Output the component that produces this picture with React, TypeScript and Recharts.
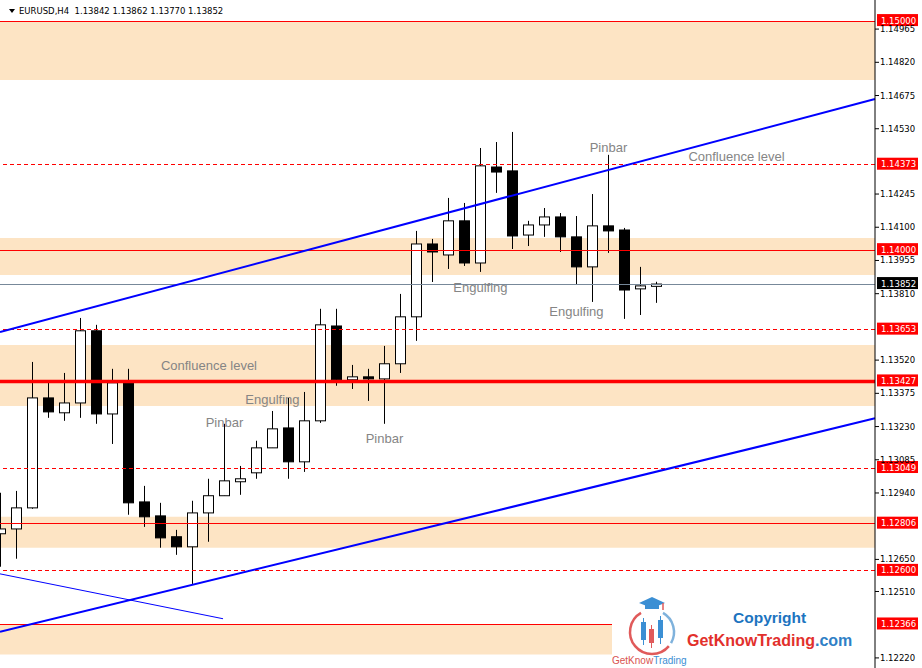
import {
  Bar,
  ComposedChart,
  ReferenceArea,
  ReferenceDot,
  ReferenceLine,
  XAxis,
  YAxis,
} from "recharts";

// EURUSD H4 candles (oldest -> newest)
const OPEN = [
  1.12762, 1.12783, 1.12875, 1.13355, 1.1329, 1.13333, 1.13648, 1.13285, 1.13421, 1.12901,
  1.1284, 1.12749, 1.12705, 1.12853, 1.12928, 1.12989, 1.13028, 1.13137, 1.13224, 1.13076,
  1.13255, 1.13669, 1.13434, 1.13447, 1.13438, 1.13504, 1.13709, 1.14027, 1.13979, 1.14128,
  1.13944, 1.14363, 1.14346, 1.14066, 1.1411, 1.14145, 1.14058, 1.13927, 1.14106, 1.14088,
  1.13831, 1.13842,
];
const HIGH = [
  1.12941, 1.12949, 1.13512, 1.13421, 1.13464, 1.13704, 1.13674, 1.13482, 1.13482, 1.12971,
  1.12897, 1.12779, 1.12906, 1.13002, 1.13242, 1.13058, 1.13168, 1.13298, 1.13355, 1.13381,
  1.13744, 1.13744, 1.13499, 1.13482, 1.13582, 1.13809, 1.14084, 1.14049, 1.14228, 1.14206,
  1.14446, 1.14472, 1.14516, 1.14128, 1.14184, 1.14162, 1.14149, 1.14245, 1.14416, 1.14097,
  1.13927, 1.13862,
];
const LOW = [
  1.12618, 1.12653, 1.12871, 1.13268, 1.13255, 1.13268, 1.13242, 1.13154, 1.12845, 1.12792,
  1.12701, 1.1267, 1.12543, 1.12727, 1.12928, 1.12932, 1.13002, 1.13137, 1.13002, 1.13032,
  1.13246, 1.13408, 1.13394, 1.13342, 1.13242, 1.13464, 1.13604, 1.13861, 1.13918, 1.13931,
  1.13905, 1.1425, 1.14005, 1.14018, 1.14058, 1.13992, 1.13848, 1.13774, 1.13988, 1.137,
  1.13717, 1.1377,
];
const CLOSE = [
  1.12783, 1.12875, 1.13355, 1.13294, 1.13333, 1.13648, 1.13285, 1.13421, 1.12897, 1.12836,
  1.12744, 1.12705, 1.12853, 1.12928, 1.12993, 1.13002, 1.13137, 1.1322, 1.13076, 1.13255,
  1.13674, 1.13434, 1.13447, 1.13438, 1.13504, 1.13709, 1.14027, 1.13992, 1.14128, 1.13944,
  1.14368, 1.14341, 1.14062, 1.1411, 1.14145, 1.14058, 1.13927, 1.14106, 1.14084, 1.13826,
  1.13844, 1.13852,
];

// price axis
const PRICE_TICKS = [
  1.14965, 1.1482, 1.14675, 1.1453, 1.14245, 1.141, 1.13955, 1.1381, 1.1352, 1.13375,
  1.1323, 1.13085, 1.1294, 1.1265, 1.1251, 1.1222,
];

// supply / demand zones [from, to]
const ZONES = [
  [1.15, 1.14743],
  [1.14053, 1.13892],
  [1.13586, 1.1332],
  [1.12836, 1.12701],
];
const BOTTOM_ZONE = [1.12366, 1.12235];
const BOTTOM_ZONE_END = 38.25; // bar index where the last box stops

const SOLID_LEVELS = [1.15, 1.14, 1.12806];
const THICK_LEVEL = 1.13427;
const DASHED_LEVELS = [1.14373, 1.13653, 1.13049, 1.126];
const SHORT_LEVEL = 1.12366;
const LAST_PRICE = 1.13852;

// right-side price tags
const TAG_LEVELS = [1.15, 1.14373, 1.14, 1.13653, 1.13427, 1.13049, 1.12806, 1.126, 1.12366];

// trend lines: [x1, y1, x2, y2] in bar index / price
const X_MAX = 54.6875;
const CHANNEL_TOP = [0, 1.13643, X_MAX, 1.1466];
const CHANNEL_BOTTOM = [0, 1.12334, X_MAX, 1.13266];
const OLD_TREND = [0, 1.12587, 13.94, 1.12391];

// chart notes
const NOTE_TEXT = [
  "Pinbar",
  "Confluence level",
  "Engulfing",
  "Engulfing",
  "Confluence level",
  "Engulfing",
  "Pinbar",
  "Pinbar",
];
const NOTE_X = [38.03, 46.03, 30.03, 36.03, 13.06, 17.03, 14.03, 24.03];
const NOTE_Y = [1.14429, 1.14389, 1.13818, 1.13713, 1.13477, 1.13329, 1.13229, 1.13159];

const candles = OPEN.map((o, i) => ({
  i,
  o,
  h: HIGH[i],
  l: LOW[i],
  c: CLOSE[i],
  range: [LOW[i], HIGH[i]],
}));

const MT_FONT = "DejaVu Sans";

function Candle(props: any) {
  const { x, y, width, height } = props;
  const p = props.payload ?? props;
  if (height == null || isNaN(height)) return null;
  const k = height / (p.h - p.l);
  const cx = Math.round(x + width / 2) + 0.5;
  const top = y + (p.h - Math.max(p.o, p.c)) * k;
  const bot = y + (p.h - Math.min(p.o, p.c)) * k;
  const up = p.c >= p.o;
  return (
    <g>
      <line x1={cx} x2={cx} y1={y} y2={y + height} stroke="#000" strokeWidth={1} />
      <rect
        x={cx - 5}
        y={top}
        width={10}
        height={Math.max(bot - top, 1)}
        fill={up ? "#fff" : "#000"}
        stroke="#000"
        strokeWidth={1}
      />
    </g>
  );
}

function PriceTag(props: any) {
  const { cx, cy, value, bg } = props;
  return (
    <g>
      <rect x={cx + 2} y={cy - 7} width={41} height={12} fill={bg} />
      <text x={cx + 6} y={cy + 2.5} fill="#fff" fontSize={8.5} fontFamily={MT_FONT}>
        {value.toFixed(5)}
      </text>
    </g>
  );
}

function Note(props: any) {
  const { cx, cy, text } = props;
  return (
    <text
      x={cx}
      y={cy}
      textAnchor="middle"
      fill="#858585"
      fontSize={13}
      fontFamily="Liberation Sans, Arial"
    >
      {text}
    </text>
  );
}

function Logo() {
  const cx = 652;
  const cy = 632;
  const r = 22;
  const pt = (a: number) => {
    const rad = (a * Math.PI) / 180;
    return `${cx + r * Math.cos(rad)} ${cy + r * Math.sin(rad)}`;
  };
  return (
    <g>
      <path d={`M ${pt(240)} A ${r} ${r} 0 1 0 ${pt(40)}`} fill="none" stroke="#e05a5a" strokeWidth={2.5} />
      <path d={`M ${pt(30)} A ${r} ${r} 0 0 0 ${pt(-60)}`} fill="none" stroke="#7fb2dc" strokeWidth={2.5} />
      <polygon points="639,603 652,597 665,603 652,608" fill="#3b8fd4" />
      <rect x={645} y={604} width={14} height={5} fill="#3b8fd4" />
      <line x1={663} x2={663} y1={603} y2={610} stroke="#e05a5a" strokeWidth={1.5} />
      <line x1={643.5} x2={643.5} y1={618} y2={645} stroke="#3b8fd4" />
      <rect x={641} y={622} width={5} height={18} fill="#3b8fd4" />
      <line x1={651.5} x2={651.5} y1={625} y2={648} stroke="#e05a5a" />
      <rect x={649} y={629} width={5} height={14} fill="#e05a5a" />
      <line x1={660.5} x2={660.5} y1={616} y2={644} stroke="#3b8fd4" />
      <rect x={658} y={620} width={5} height={18} fill="#3b8fd4" />
      <text x={612} y={664} fontSize={10} fontFamily="Liberation Sans, Arial">
        <tspan fill="#d9534f">GetKnow</tspan>
        <tspan fill="#3b8fd4">Trading</tspan>
      </text>
      <text x={733} y={623} fontSize={15.5} fontWeight="bold" fill="#1c74bf" fontFamily="Liberation Sans, Arial">
        Copyright
      </text>
      <text x={687} y={646} fontSize={16} fontWeight="bold" fontFamily="Liberation Sans, Arial">
        <tspan fill="#e2302c">GetKnowTrading</tspan>
        <tspan fill="#2f7fc6">.com</tspan>
      </text>
    </g>
  );
}

export default function App() {
  return (
    <div
      style={{
        position: "absolute",
        left: 0,
        top: 0,
        width: 922,
        height: 668,
        overflow: "hidden",
        background: "#fff",
      }}
    >
      <ComposedChart
        width={922}
        height={668}
        data={candles}
        margin={{ top: 0, right: 0, bottom: 0, left: 0 }}
      >
        <XAxis type="number" dataKey="i" domain={[0, X_MAX]} hide allowDataOverflow />
        <YAxis
          orientation="right"
          type="number"
          domain={[1.12176, 1.15092]}
          ticks={PRICE_TICKS}
          interval={0}
          width={47}
          allowDataOverflow
          tickSize={4}
          tickMargin={1}
          axisLine={{ stroke: "#000" }}
          tickLine={{ stroke: "#000" }}
          tick={{ fontSize: 8.5, fill: "#000", fontFamily: MT_FONT }}
          tickFormatter={(v: number) => v.toFixed(5)}
        />

        {ZONES.map(([a, b]) => (
          <ReferenceArea
            key={`z-${a}`}
            y1={a}
            y2={b}
            fill="#fde4c4"
            fillOpacity={1}
            stroke="none"
            ifOverflow="visible"
          />
        ))}
        <ReferenceArea
          x1={0}
          x2={BOTTOM_ZONE_END}
          y1={BOTTOM_ZONE[0]}
          y2={BOTTOM_ZONE[1]}
          fill="#fde4c4"
          fillOpacity={1}
          stroke="none"
          ifOverflow="visible"
        />

        <Bar dataKey="range" barSize={11} shape={<Candle />} isAnimationActive={false} />

        {SOLID_LEVELS.map((v) => (
          <ReferenceLine
            key={`s-${v}`}
            y={v}
            stroke="#ff0000"
            strokeWidth={1}
            shapeRendering="crispEdges"
          />
        ))}
        <ReferenceLine y={THICK_LEVEL} stroke="#ff0000" strokeWidth={3.5} />
        {DASHED_LEVELS.map((v) => (
          <ReferenceLine
            key={`d-${v}`}
            y={v}
            stroke="#ff0000"
            strokeWidth={1}
            strokeDasharray="4 3"
            shapeRendering="crispEdges"
          />
        ))}
        <ReferenceLine
          segment={[
            { x: 0, y: SHORT_LEVEL },
            { x: BOTTOM_ZONE_END, y: SHORT_LEVEL },
          ]}
          stroke="#ff0000"
          strokeWidth={1}
          shapeRendering="crispEdges"
        />
        <ReferenceLine y={LAST_PRICE} stroke="#778899" strokeWidth={1} shapeRendering="crispEdges" />

        <ReferenceLine
          segment={[
            { x: CHANNEL_TOP[0], y: CHANNEL_TOP[1] },
            { x: CHANNEL_TOP[2], y: CHANNEL_TOP[3] },
          ]}
          stroke="#0000ff"
          strokeWidth={2}
          ifOverflow="visible"
        />
        <ReferenceLine
          segment={[
            { x: CHANNEL_BOTTOM[0], y: CHANNEL_BOTTOM[1] },
            { x: CHANNEL_BOTTOM[2], y: CHANNEL_BOTTOM[3] },
          ]}
          stroke="#0000ff"
          strokeWidth={2}
          ifOverflow="visible"
        />
        <ReferenceLine
          segment={[
            { x: OLD_TREND[0], y: OLD_TREND[1] },
            { x: OLD_TREND[2], y: OLD_TREND[3] },
          ]}
          stroke="#0000ff"
          strokeWidth={1}
          ifOverflow="visible"
        />

        {NOTE_TEXT.map((t, k) => (
          <ReferenceDot
            key={`n-${k}`}
            x={NOTE_X[k]}
            y={NOTE_Y[k]}
            ifOverflow="visible"
            shape={(p: any) => <Note cx={p.cx} cy={p.cy} text={t} />}
          />
        ))}

        {TAG_LEVELS.map((v) => (
          <ReferenceDot
            key={`t-${v}`}
            x={X_MAX}
            y={v}
            ifOverflow="visible"
            shape={(p: any) => <PriceTag cx={p.cx} cy={p.cy} value={v} bg="#ff0000" />}
          />
        ))}
        <ReferenceDot
          x={X_MAX}
          y={LAST_PRICE}
          ifOverflow="visible"
          shape={(p: any) => <PriceTag cx={p.cx} cy={p.cy} value={LAST_PRICE} bg="#000" />}
        />
      </ComposedChart>

      <svg
        width={922}
        height={668}
        style={{ position: "absolute", left: 0, top: 0, pointerEvents: "none" }}
      >
        <polygon points="9,9 15,9 12,13" fill="#000" />
        <text
          x={19}
          y={14}
          fontSize={8.5}
          fontFamily={MT_FONT}
          fill="#000"
          style={{ whiteSpace: "pre" }}
        >
          {`EURUSD,H4  ${OPEN[41].toFixed(5)} ${HIGH[41].toFixed(5)} ${LOW[41].toFixed(5)} ${CLOSE[41].toFixed(5)}`}
        </text>
        <Logo />
      </svg>
    </div>
  );
}
